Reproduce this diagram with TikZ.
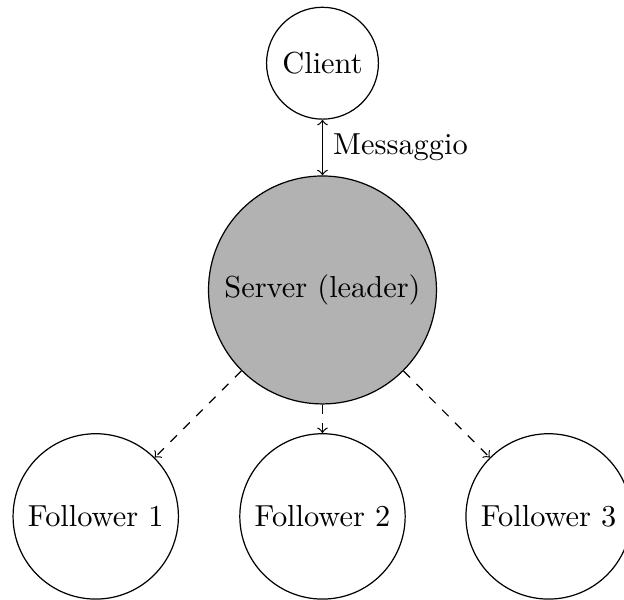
\documentclass[tikz,border=0pt]{standalone}
\usetikzlibrary{arrows}
\begin{document}
\begin{tikzpicture}[
  every node/.style={circle, draw, align=center},
  leader/.style={fill=gray!60, minimum size=75pt},
  clientnode/.style={minimum size=36.8pt},
  follower/.style={minimum size=54.4pt},
  link/.style={<->},
  replica/.style={->, dashed}
]
\useasboundingbox (-106.1pt,-102.0pt) rectangle (99.2pt,95.4pt);
\node[leader] (server) at (0,0) {Server (leader)};
\node[clientnode] (client) at (0,74.6pt) {Client};
\node[follower] (f1) at (-74.6pt,-74.5pt) {Follower 1};
\node[follower] (f2) at (0,-74.5pt) {Follower 2};
\node[follower] (f3) at (74.4pt,-74.5pt) {Follower 3};
\draw[link] (client) -- node[draw=none, rectangle, right] (msg) {Messaggio} (server);
\draw[replica] (server) -- (f1);
\draw[replica] (server) -- (f2);
\draw[replica] (server) -- (f3);
\end{tikzpicture}
\end{document}
